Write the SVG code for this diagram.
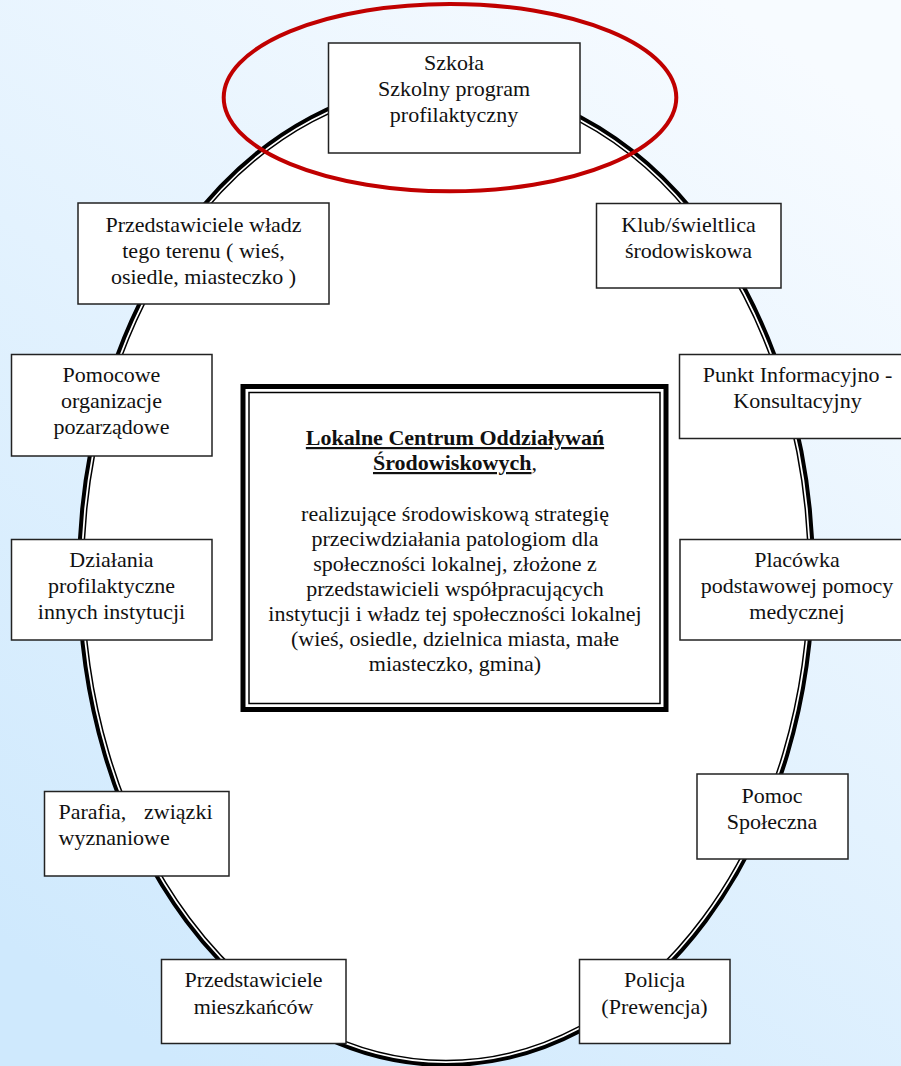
<svg xmlns="http://www.w3.org/2000/svg" width="901" height="1066" viewBox="0 0 901 1066" font-family="'Liberation Serif', 'Times New Roman', Times, 'DejaVu Serif', serif">
<style>
.box{fill:#fff;stroke:#222;stroke-width:1.5}
.t{font-family:'Liberation Serif', 'Times New Roman', Times, 'DejaVu Serif', serif;font-size:22px;fill:#111;text-anchor:middle}
.b{font-weight:bold}
.s{text-anchor:start}
.e{text-anchor:end}
</style>
<defs>
<linearGradient id="bg" x1="0.8" y1="0" x2="0.2" y2="1">
<stop offset="0" stop-color="#f7fbff"/>
<stop offset="1" stop-color="#cfe9fd"/>
</linearGradient>
</defs>
<rect x="0" y="0" width="901" height="1066" fill="url(#bg)"/>
<g id="ring">
<ellipse cx="446" cy="574" rx="367" ry="491" fill="#fff" stroke="#000" stroke-width="4"/>
<ellipse cx="446" cy="574" rx="362.5" ry="486.5" fill="none" stroke="#000" stroke-width="1.5"/>
</g>
<g id="connectors"></g>
<g id="center">
<rect x="243" y="386.5" width="423" height="323" fill="#fff" stroke="#000" stroke-width="5"/>
<rect x="249" y="392.5" width="411" height="311" fill="none" stroke="#000" stroke-width="1.5"/>
<text class="t b" x="455" y="445" text-decoration="underline">Lokalne Centrum Oddziaływań</text>
<text class="t" x="455" y="470"><tspan class="b" text-decoration="underline">Środowiskowych</tspan>,</text>
<text class="t" x="455" y="521">realizujące środowiskową strategię</text>
<text class="t" x="455" y="546">przeciwdziałania patologiom dla</text>
<text class="t" x="455" y="571">społeczności lokalnej, złożone z</text>
<text class="t" x="455" y="596">przedstawicieli współpracujących</text>
<text class="t" x="455" y="621">instytucji i władz tej społeczności lokalnej</text>
<text class="t" x="455" y="646">(wieś, osiedle, dzielnica miasta, małe</text>
<text class="t" x="455" y="671">miasteczko, gmina)</text>
</g>
<g id="szkola">
<rect class="box" x="328.5" y="43" width="251.5" height="110"/>
<text class="t" x="454" y="70">Szkoła</text>
<text class="t" x="454" y="96">Szkolny program</text>
<text class="t" x="454" y="122">profilaktyczny</text>
</g>
<ellipse id="highlight" cx="450" cy="97.6" rx="226.3" ry="93.7" fill="none" stroke="#c00000" stroke-width="4"/>
<g id="wladze">
<rect class="box" x="78" y="203" width="251" height="101"/>
<text class="t" x="203.5" y="232">Przedstawiciele władz</text>
<text class="t" x="203.5" y="257.5">tego terenu ( wieś,</text>
<text class="t" x="203.5" y="283.5">osiedle, miasteczko )</text>
</g>
<g id="pomocowe">
<rect class="box" x="11.5" y="354.5" width="200.5" height="101.5"/>
<text class="t" x="111.5" y="382">Pomocowe</text>
<text class="t" x="111.5" y="408">organizacje</text>
<text class="t" x="111.5" y="434">pozarządowe</text>
</g>
<g id="dzialania">
<rect class="box" x="11.5" y="539.5" width="200.5" height="100.5"/>
<text class="t" x="111.5" y="567">Działania</text>
<text class="t" x="111.5" y="592.5">profilaktyczne</text>
<text class="t" x="111.5" y="618.5">innych instytucji</text>
</g>
<g id="parafia">
<rect class="box" x="44.5" y="791.5" width="184.5" height="84.5"/>
<text class="t s" x="58.5" y="818.5">Parafia,</text>
<text class="t e" x="212.5" y="818.5">związki</text>
<text class="t s" x="58.5" y="845">wyznaniowe</text>
</g>
<g id="mieszkancy">
<rect class="box" x="161.5" y="959.5" width="184.5" height="84"/>
<text class="t" x="253.5" y="987">Przedstawiciele</text>
<text class="t" x="253.5" y="1013.5">mieszkańców</text>
</g>
<g id="klub">
<rect class="box" x="596.5" y="203.5" width="184.5" height="84.5"/>
<text class="t" x="688.5" y="232">Klub/świeltlica</text>
<text class="t" x="688.5" y="257.5">środowiskowa</text>
</g>
<g id="punkt">
<rect class="box" x="679.5" y="354.5" width="224" height="84"/>
<text class="t" x="797.5" y="382">Punkt Informacyjno -</text>
<text class="t" x="797.5" y="408">Konsultacyjny</text>
</g>
<g id="placowka">
<rect class="box" x="680" y="539.5" width="224" height="100.5"/>
<text class="t" x="797" y="567">Placówka</text>
<text class="t" x="797" y="592.5">podstawowej pomocy</text>
<text class="t" x="797" y="618.5">medycznej</text>
</g>
<g id="pomoc">
<rect class="box" x="697" y="774" width="151" height="85"/>
<text class="t" x="772" y="802.5">Pomoc</text>
<text class="t" x="772" y="829">Społeczna</text>
</g>
<g id="policja">
<rect class="box" x="579.5" y="959.5" width="150.5" height="84"/>
<text class="t" x="654.5" y="987">Policja</text>
<text class="t" x="654.5" y="1013.5">(Prewencja)</text>
</g>
</svg>
